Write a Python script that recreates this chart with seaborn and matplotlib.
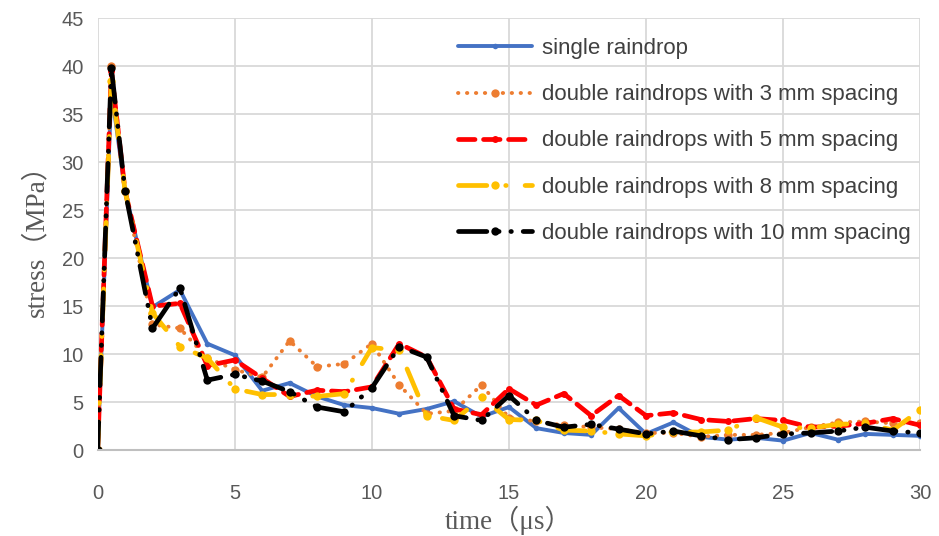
# plot.py
# Stress vs time for single and double raindrops

import numpy as np
import pandas as pd
import matplotlib
matplotlib.use("Agg")
import matplotlib.pyplot as plt
import seaborn as sns

# time points (us)
time_us = [0, 0.5, 1, 2, 3, 4, 5, 6, 7, 8, 9, 10, 11, 12, 13, 14, 15,
           16, 17, 18, 19, 20, 21, 22, 23, 24, 25, 26, 27, 28, 29, 30]

# stress (MPa)
single = [0, 37.5, 27, 14.9, 16.7, 11.1, 9.9, 6.2, 7.0, 5.6, 4.7, 4.4, 3.8, 4.3, 5.1, 3.5, 4.5,
          2.3, 1.8, 1.6, 4.4, 1.7, 2.9, 1.4, 1.1, 1.3, 1.0, 1.8, 1.1, 1.7, 1.6, 1.5]
double_3mm = [0, 40, 27, 13.1, 12.7, 9.6, 8.4, 7.6, 11.4, 8.7, 9.0, 11.1, 6.8, 3.8, 4.1, 6.8, 3.4,
              3.0, 2.6, 2.4, 2.2, 1.8, 1.8, 1.4, 1.6, 1.6, 1.8, 2.4, 2.9, 3.0, 2.8, 2.8]
double_5mm = [0, 39.5, 27, 15.0, 15.3, 8.8, 9.4, 7.5, 5.6, 6.25, 6.1, 6.6, 11.1, 9.7, 4.3, 3.7, 6.4,
              4.7, 5.9, 3.6, 5.7, 3.6, 3.9, 3.2, 3.0, 3.3, 3.1, 2.4, 2.5, 2.8, 3.3, 2.6]
double_8mm = [0, 38.5, 27, 14.3, 10.8, 9.6, 6.4, 5.8, 5.8, 5.6, 5.9, 10.7, 10.4, 3.6, 3.1, 5.5, 3.2,
              3.1, 2.1, 2.0, 1.7, 1.5, 1.9, 1.9, 2.1, 3.4, 2.4, 2.3, 2.7, 2.8, 2.1, 4.2]
double_10mm = [0, 39.8, 27, 12.7, 16.9, 7.3, 7.9, 7.2, 6.1, 4.5, 4.0, 6.5, 10.8, 9.7, 3.6, 3.1, 5.7,
               3.1, 2.4, 2.7, 2.2, 1.7, 2.0, 1.5, 1.1, 1.3, 1.7, 1.8, 2.0, 2.4, 2.0, 1.8]

labels = ["single raindrop",
          "double raindrops with 3 mm spacing",
          "double raindrops with 5 mm spacing",
          "double raindrops with 8 mm spacing",
          "double raindrops with 10 mm spacing"]
colors = ["#4472C4", "#ED7D31", "#FF0000", "#FFC000", "#000000"]

sns.set_style("whitegrid")
plt.rcParams["font.family"] = ["Liberation Sans", "DejaVu Sans"]

fig = plt.figure(figsize=(9.39, 5.36), dpi=100)
ax = fig.add_axes([0.104, 0.16, 0.876, 0.806])

styles = [
    dict(linestyle="-", linewidth=2.8, markersize=4),
    dict(linestyle=(0, (0.1, 2.2)), linewidth=2.8, markersize=6),
    dict(linestyle=(0, (3.5, 1.8)), linewidth=3.4, markersize=5),
    dict(linestyle=(0, (6, 4, 0.1, 4)), linewidth=3.4, markersize=6),
    dict(linestyle=(0, (6, 2.5, 0.1, 2.5, 0.1, 2.5)), linewidth=3.4, markersize=6),
]

series = [single, double_3mm, double_5mm, double_8mm, double_10mm]
for vals, lab, col, st in zip(series, labels, colors, styles):
    sns.lineplot(x=time_us, y=vals, ax=ax, color=col, label=lab, marker="o",
                 markeredgewidth=0, dash_capstyle="round", solid_capstyle="round",
                 **st)

ax.set_xlim(0, 30)
ax.set_ylim(0, 45)
ax.set_xticks(np.arange(0, 31, 5))
ax.set_yticks(np.arange(0, 46, 5))
ax.grid(True, color="#d9d9d9", linewidth=1.3)
for s in ["top", "right", "left"]:
    ax.spines[s].set_visible(False)
ax.spines["bottom"].set_color("#bfbfbf")
ax.spines["bottom"].set_linewidth(1.5)
ax.tick_params(axis="both", length=0, labelsize=14.5, colors="#595959")
ax.tick_params(axis="y", pad=10)
ax.tick_params(axis="x", pad=24)

lab_font = ["Liberation Serif", "Noto Sans CJK SC"]
ax.set_xlabel("time（μs）", family=lab_font, fontsize=19.5, color="#595959", labelpad=2)
ax.set_ylabel("stress（MPa）", family=lab_font, fontsize=19.5, color="#595959", labelpad=9)

leg = ax.legend(loc="upper left", bbox_to_anchor=(0.414, 1.0), frameon=False,
                fontsize=16, handlelength=3.3, labelspacing=1.13, handletextpad=0.45)
for t in leg.get_texts():
    t.set_color("#404040")

fig.savefig("out.png", dpi=100)
